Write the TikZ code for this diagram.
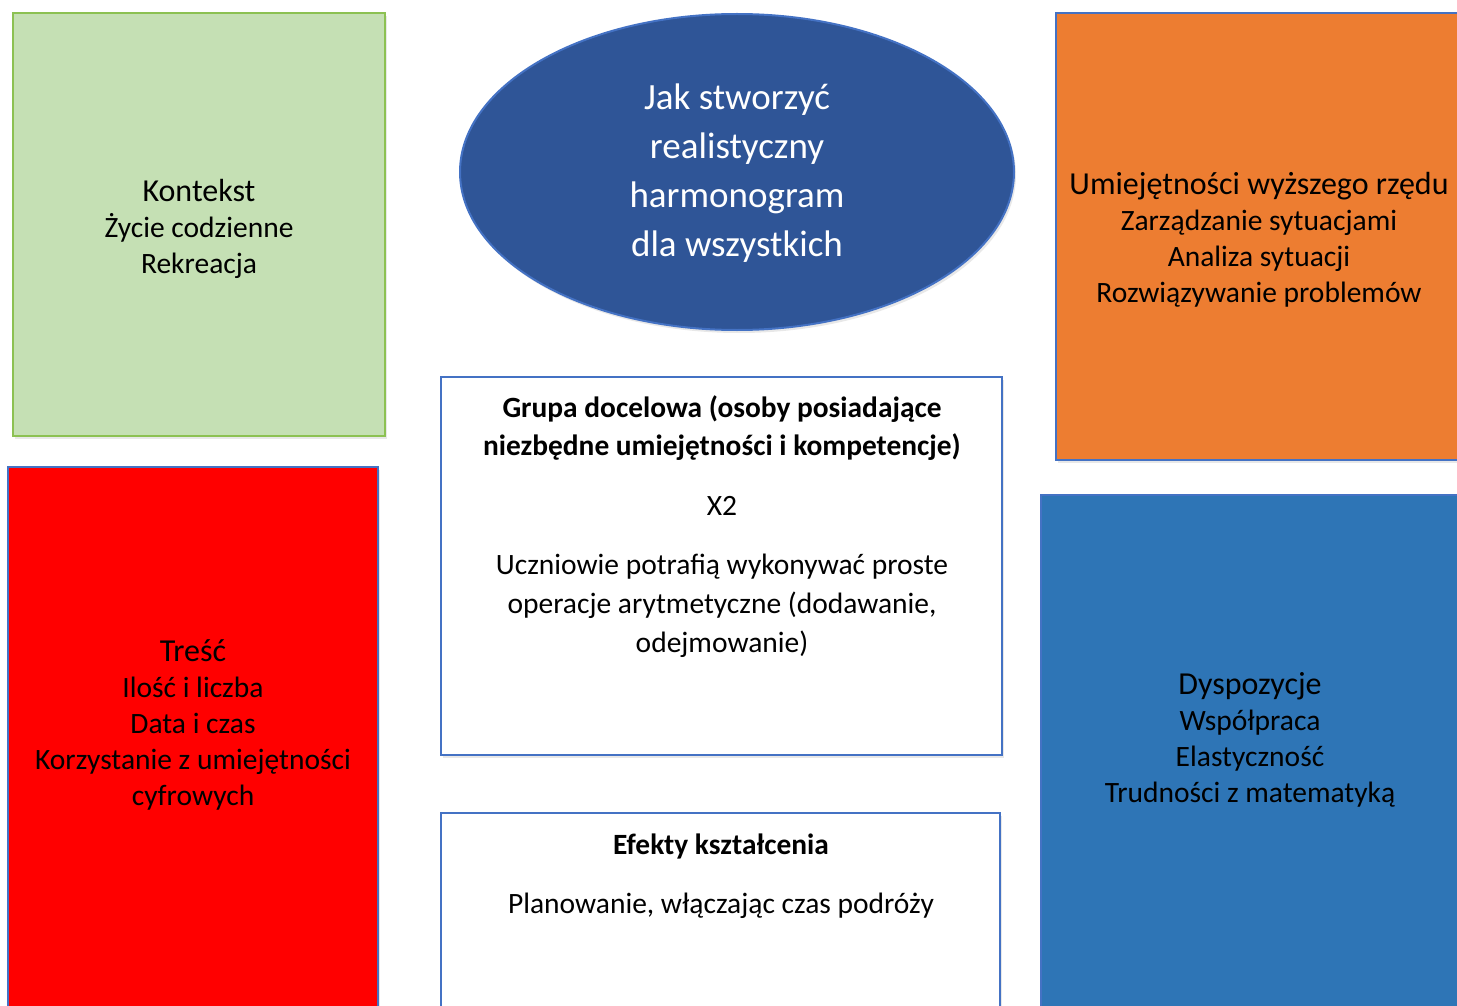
\documentclass[tikz,border=0pt]{standalone}
\usepackage{fontspec}
\setmainfont{Carlito}
\usetikzlibrary{shapes.geometric,shadows,fit}
\definecolor{bord}{HTML}{4472C4}
\definecolor{greenfill}{HTML}{C5E0B4}
\definecolor{greenbord}{HTML}{8CC152}
\definecolor{ellfill}{HTML}{2F5597}
\definecolor{orangefill}{HTML}{ED7D31}
\definecolor{redfill}{HTML}{FF0000}
\definecolor{bluefill}{HTML}{2E75B6}
\newcommand{\ttlsize}{\fontsize{16}{18}\selectfont}
\begin{document}
\begin{tikzpicture}[x=0.5pt,y=-0.5pt,
  box/.style={draw=bord, line width=1pt, inner sep=0pt,
    drop shadow={opacity=0.18, shadow xshift=1pt, shadow yshift=-1.5pt}},
  lbl/.style={align=center, inner sep=0pt, text=black, font=\fontsize{14.75}{18}\selectfont}
]
\useasboundingbox (0,0) rectangle (1457,1006);
\clip (0,0) rectangle (1457,1006);

% boxes
\node[box, draw=greenbord, fill=greenfill, fit={(13,13) (385,436)}] (ctx) {};
\node[box, fill=orangefill, fit={(1056,13) (1480,460)}] (hos) {};
\node[box, fill=redfill, fit={(8,467) (378,1030)}] (cont) {};
\node[box, fill=bluefill, fit={(1041,495) (1480,1030)}] (disp) {};
\node[box, fill=white, fit={(441,377) (1002,755)}] (grp) {};
\node[box, fill=white, fit={(441,813) (1000,1030)}] (eff) {};
\node[ellipse, draw=bord, line width=1pt, fill=ellfill, inner sep=0pt,
  minimum width=277pt, minimum height=158pt,
  drop shadow={opacity=0.18, shadow xshift=1pt, shadow yshift=-1.5pt}] (main) at (737,172) {};

% texts
\node[lbl, text=white, font=\fontsize{18.5}{24.5}\selectfont] (maint) at (737,173)
  {Jak stworzyć\\realistyczny\\harmonogram\\dla wszystkich};
\node[lbl] (ctxt) at (199,229)
  {{\ttlsize Kontekst}\\Życie codzienne\\Rekreacja};
\node[lbl] (host) at (1259,240)
  {{\ttlsize Umiejętności wyższego rzędu}\\Zarządzanie sytuacjami\\Analiza sytuacji\\Rozwiązywanie problemów};
\node[lbl] (contt) at (193,724.5)
  {{\ttlsize Treść}\\Ilość i liczba\\Data i czas\\Korzystanie z umiejętności\\cyfrowych};
\node[lbl] (dispt) at (1250,739.5)
  {{\ttlsize Dyspozycje}\\Współpraca\\Elastyczność\\Trudności z matematyką};
\node[lbl, font=\bfseries\fontsize{14.7}{19}\selectfont] (grph) at (722,428)
  {Grupa docelowa (osoby posiadające\\niezbędne umiejętności i kompetencje)};
\node[lbl] (grpx) at (722,506) {X2};
\node[lbl, font=\fontsize{14.75}{19.5}\selectfont] (grpb) at (722,606)
  {Uczniowie potrafią wykonywać proste\\operacje arytmetyczne (dodawanie,\\odejmowanie)};
\node[lbl, font=\bfseries\fontsize{14.7}{19}\selectfont] (effh) at (721,846) {Efekty kształcenia};
\node[lbl] (effb) at (721,906) {Planowanie, włączając czas podróży};
\end{tikzpicture}
\end{document}
